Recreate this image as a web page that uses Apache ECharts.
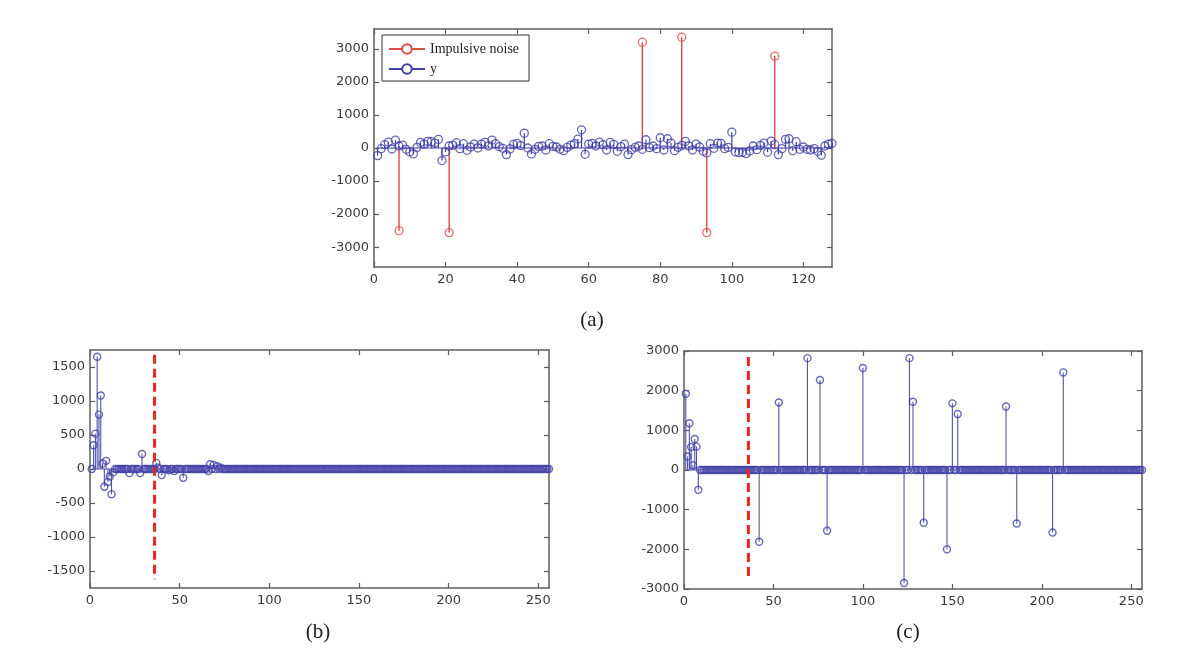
<!DOCTYPE html>
<html><head><meta charset="utf-8">
<script src="https://cdn.jsdelivr.net/npm/echarts@6/dist/echarts.min.js"></script>
<style>html,body{margin:0;padding:0;background:#fff}#c{width:1200px;height:650px}</style>
</head><body><div id="c"></div>
<script>
// ---------- data ----------
// Panel (a): impulsive noise (red) and y (blue), sample index 1..128
const aNoiseX = [7, 21, 75, 86, 93, 112];
const aNoiseV = [-2500, -2560, 3200, 3350, -2560, 2780];
const aY = [
  -230, -20, 100, 180, -30, 240, 60, 90, -40, -120,
  -180, 20, 170, 120, 200, 190, 150, 260, -380, -120,
  60, 80, 160, -20, 130, -70, 30, 120, 0, 120,
  170, 60, 240, 130, 40, -10, -200, -30, 110, 140,
  70, 450, 0, -180, -40, 50, 60, -60, 130, 50,
  30, -40, -80, 20, 90, 130, 270, 550, -190, 120,
  140, 60, 180, 100, -60, 170, 110, -100, 40, 120,
  -200, -50, 20, 60, -40, 250, 10, 60, -20, 310,
  -60, 280, 150, -80, 20, 80, 200, 60, -60, 120,
  30, -100, -150, 130, -10, 150, 140, -20, 20, 480,
  -120, -140, -130, -170, -90, 60, -50, 80, 150, -130,
  210, 100, -200, -20, 260, 280, -80, 190, -40, 30,
  -40, -60, -20, -100, -220, 60, 120, 140
];
// Panel (b): 256 samples, all zero except these
const bLen = 256;
const bIdx = [2, 3, 4, 5, 6, 7, 8, 9, 10, 11, 12, 13, 22, 28, 29, 37, 38, 40, 44, 47, 52, 66, 67, 69, 71, 73];
const bVal = [350, 520, 1650, 800, 1080, 80, -260, 120, -190, -110, -370, -50, -60, -60, 220, 90, 20, -90, -20, -30, -130, -30, 70, 60, 40, 20];
// Panel (c): 256 samples, all zero except these
const cLen = 256;
const cIdx = [1, 2, 3, 4, 5, 6, 7, 8, 42, 53, 69, 76, 80, 100, 123, 126, 128, 134, 147, 150, 153, 180, 186, 206, 212];
const cVal = [1920, 340, 1180, 580, 120, 780, 590, -500, -1810, 1700, 2820, 2270, -1530, 2570, -2850, 2820, 1720, -1330, -2000, 1680, 1410, 1600, -1350, -1575, 2460];
// red dashed marker
const cutX = 36;
const bCut = [1680, -1620];
const cCut = [2850, -2750];
// ticks
const aXTicks = [0, 20, 40, 60, 80, 100, 120];
const aYTicks = [-3000, -2000, -1000, 0, 1000, 2000, 3000];
const bXTicks = [0, 50, 100, 150, 200, 250];
const bYTicks = [-1500, -1000, -500, 0, 500, 1000, 1500];
const cXTicks = [0, 50, 100, 150, 200, 250];
const cYTicks = [-3000, -2000, -1000, 0, 1000, 2000, 3000];

// ---------- build ----------
const BLUE = '#4040a6', BLUE_STEM = '#5353ad', RED = '#dd4a45', CUTRED = '#e8281f';
const aYData = aY.map((v, i) => [i + 1, v]);
const aNData = aNoiseX.map((x, i) => [x, aNoiseV[i]]);
function sparse(len, idx, val) {
  const arr = [];
  for (let i = 1; i <= len; i++) arr.push([i, 0]);
  idx.forEach((k, j) => { arr[k - 1][1] = val[j]; });
  return arr;
}
const bData = sparse(bLen, bIdx, bVal);
const cData = sparse(cLen, cIdx, cVal);

const grids = [
  {left: 374, top: 29, width: 458, height: 238},
  {left: 90, top: 350, width: 459, height: 238},
  {left: 684, top: 351, width: 458, height: 238}
];
const xr = [[0, 128, aXTicks], [0, 256, bXTicks], [0, 256, cXTicks]];
const yr = [[-3600, 3600, aYTicks], [-1750, 1750, bYTicks], [-3000, 3000, cYTicks]];
const lineCol = '#5c5c5c';
const labelStyle = {color: '#3a3a3a', fontFamily: 'DejaVu Sans', fontSize: 13, formatter: v => String(v)};
const xAxes = [], yAxes = [];
grids.forEach((g, i) => {
  ['bottom', 'top'].forEach((pos, k) => {
    xAxes.push({
      type: 'value', gridIndex: i, position: pos, min: xr[i][0], max: xr[i][1],
      splitLine: {show: false},
      axisLine: {show: true, onZero: false, lineStyle: {color: lineCol, width: 1.5}},
      axisTick: {show: true, inside: true, length: 5, customValues: xr[i][2], lineStyle: {color: lineCol, width: 1.2}},
      axisLabel: Object.assign({show: k === 0, margin: 6, customValues: xr[i][2]}, labelStyle)
    });
  });
  ['left', 'right'].forEach((pos, k) => {
    yAxes.push({
      type: 'value', gridIndex: i, position: pos, min: yr[i][0], max: yr[i][1],
      splitLine: {show: false},
      axisLine: {show: true, onZero: false, lineStyle: {color: lineCol, width: 1.5}},
      axisTick: {show: true, inside: true, length: 5, customValues: yr[i][2], lineStyle: {color: lineCol, width: 1.2}},
      axisLabel: Object.assign({show: k === 0, margin: 5, customValues: yr[i][2]}, labelStyle)
    });
  });
});

function stems(gi, data, color, w) {
  return {
    type: 'custom', xAxisIndex: gi * 2, yAxisIndex: gi * 2, data: data, silent: true,
    renderItem: function (params, api) {
      const x = api.value(0), v = api.value(1);
      const p0 = api.coord([x, 0]), p1 = api.coord([x, v]);
      return {type: 'line', shape: {x1: p0[0], y1: p0[1], x2: p1[0], y2: p1[1]}, style: {stroke: color, lineWidth: w}};
    }
  };
}
function marks(gi, data, color, size, bw) {
  return {
    type: 'scatter', xAxisIndex: gi * 2, yAxisIndex: gi * 2, data: data, symbol: 'circle', symbolSize: size,
    itemStyle: {color: 'rgba(0,0,0,0)', borderColor: color, borderWidth: bw}, silent: true
  };
}
function baseline(gi, len, color) {
  return {
    type: 'line', xAxisIndex: gi * 2, yAxisIndex: gi * 2, data: [[1, 0], [len, 0]], symbol: 'none',
    lineStyle: {color: color, width: 1.2}, silent: true
  };
}
function cut(gi, ends) {
  return {
    type: 'line', xAxisIndex: gi * 2, yAxisIndex: gi * 2, data: [[cutX, ends[0]], [cutX, ends[1]]], symbol: 'none',
    lineStyle: {color: CUTRED, width: 3, type: [9, 5]}, silent: true, z: 5
  };
}

const series = [
  baseline(0, 128, BLUE),
  stems(0, aYData, BLUE, 1.2),
  stems(0, aNData, RED, 1.4),
  marks(0, aYData, BLUE, 8, 1.3),
  marks(0, aNData, RED, 8, 1.3),
  {type: 'line', name: 'Impulsive noise', xAxisIndex: 0, yAxisIndex: 0, data: [], symbol: 'emptyCircle', symbolSize: 8,
    itemStyle: {color: RED}, lineStyle: {color: RED, width: 1.4}},
  {type: 'line', name: 'y', xAxisIndex: 0, yAxisIndex: 0, data: [], symbol: 'emptyCircle', symbolSize: 8,
    itemStyle: {color: BLUE}, lineStyle: {color: BLUE, width: 1.4}},
  baseline(1, bLen, BLUE_STEM),
  stems(1, bData, BLUE_STEM, 1.1),
  marks(1, bData, BLUE, 7, 1.4),
  cut(1, bCut),
  baseline(2, cLen, BLUE_STEM),
  stems(2, cData, BLUE_STEM, 1.1),
  marks(2, cData, BLUE, 7, 1.4),
  cut(2, cCut)
];

const chart = echarts.init(document.getElementById('c'), null, {renderer: 'canvas'});
chart.setOption({
  animation: false,
  backgroundColor: '#fff',
  grid: grids,
  xAxis: xAxes,
  yAxis: yAxes,
  legend: {
    data: ['Impulsive noise', 'y'], orient: 'vertical', left: 382, top: 35,
    padding: [7, 10, 5, 6], itemGap: 6, itemWidth: 36, itemHeight: 12,
    borderColor: '#333', borderWidth: 1, backgroundColor: '#fff',
    textStyle: {fontFamily: 'Liberation Serif', fontSize: 14, color: '#222'},
    selectedMode: false
  },
  graphic: [
    {type: 'text', x: 592, y: 320, style: {text: '(a)', font: '21px "Liberation Serif"', fill: '#222', textAlign: 'center', textVerticalAlign: 'middle'}},
    {type: 'text', x: 318, y: 632, style: {text: '(b)', font: '21px "Liberation Serif"', fill: '#222', textAlign: 'center', textVerticalAlign: 'middle'}},
    {type: 'text', x: 908, y: 632, style: {text: '(c)', font: '21px "Liberation Serif"', fill: '#222', textAlign: 'center', textVerticalAlign: 'middle'}}
  ],
  series: series
});
</script></body></html>
